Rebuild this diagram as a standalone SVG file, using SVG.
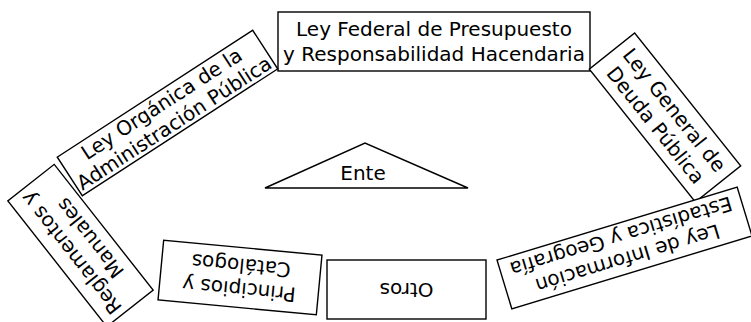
<svg xmlns="http://www.w3.org/2000/svg" width="751" height="322" viewBox="0 0 751 322">
<style>
.box{fill:#fff;stroke:#000;stroke-width:1.4}
.t{font-family:"DejaVu Sans",Verdana,sans-serif;font-size:20px;fill:#000;text-anchor:middle}
</style>
<rect width="751" height="322" fill="#fff"/>
<g id="connectors"/>
<g id="n-federal">
<rect class="box" x="278" y="12" width="312" height="59"/>
<text class="t" x="434" y="36">Ley Federal de Presupuesto</text>
<text class="t" x="434" y="61">y Responsabilidad Hacendaria</text>
</g>
<g id="n-organica" transform="translate(167.5,113) rotate(-33)">
<rect class="box" x="-116.5" y="-23" width="233" height="46"/>
<text class="t" x="0" y="-4">Ley Orgánica de la</text>
<text class="t" x="0" y="19">Administración Pública</text>
</g>
<g id="n-deuda" transform="translate(665,117.5) rotate(51.4)">
<rect class="box" x="-85" y="-29" width="170" height="58"/>
<text class="t" x="0" y="-5">Ley General de</text>
<text class="t" x="0" y="19">Deuda Pública</text>
</g>
<g id="n-reglamentos" transform="translate(80.5,245.5) rotate(231.8)">
<rect class="box" x="-80" y="-29.5" width="160" height="59"/>
<text class="t" x="0" y="-5">Reglamentos y</text>
<text class="t" x="0" y="19">Manuales</text>
</g>
<g id="n-principios" transform="translate(240,277.5) rotate(185.4)">
<rect class="box" x="-79.5" y="-30" width="159" height="60"/>
<text class="t" x="0" y="-5">Principios y</text>
<text class="t" x="0" y="19">Catálogos</text>
</g>
<g id="n-otros" transform="translate(406.5,289.5) rotate(180)">
<rect class="box" x="-79.5" y="-29.5" width="159" height="59"/>
<text class="t" x="0" y="7">Otros</text>
</g>
<g id="n-informacion" transform="translate(624.5,248) rotate(163.1)">
<rect class="box" x="-125.5" y="-25.5" width="251" height="51"/>
<text class="t" x="0" y="-4">Ley de Información</text>
<text class="t" x="0" y="19">Estadística y Geografía</text>
</g>
<g id="n-ente">
<polygon class="box" points="265,188 365,143 468,188"/>
<text class="t" x="363" y="180">Ente</text>
</g>
</svg>
